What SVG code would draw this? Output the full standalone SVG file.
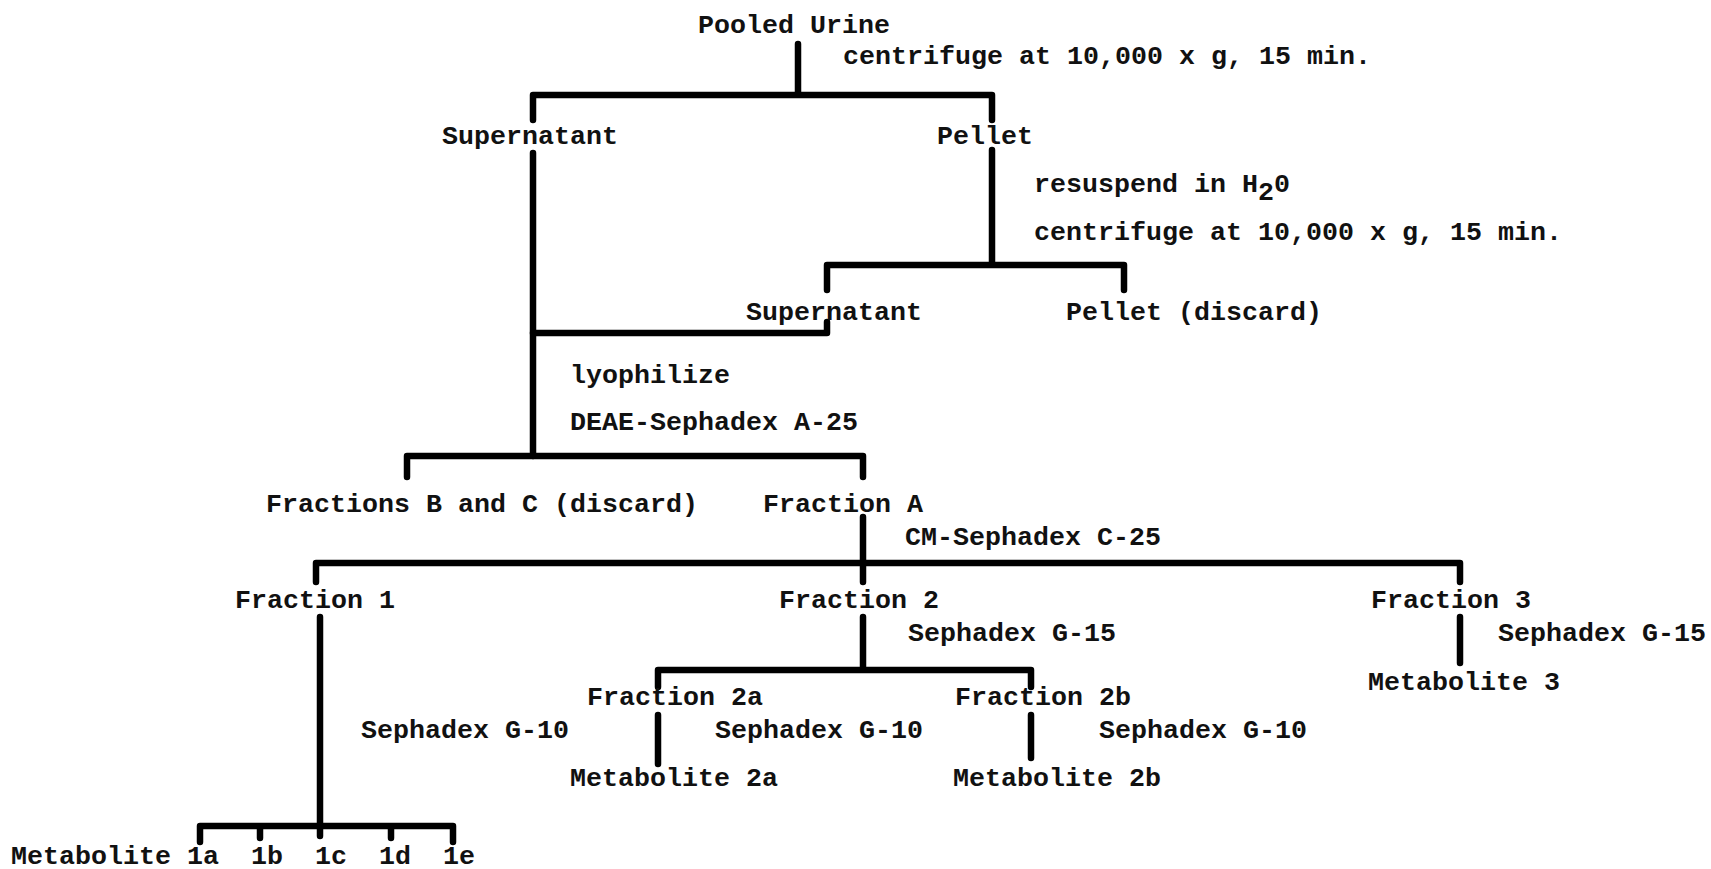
<svg xmlns="http://www.w3.org/2000/svg" width="1711" height="869" viewBox="0 0 1711 869">
<style>
text{font-family:"Liberation Mono","DejaVu Sans Mono",monospace;font-size:26.67px;font-weight:bold;fill:#111;}
.c{fill:none;stroke:#000;stroke-width:6.5;stroke-linecap:round;stroke-linejoin:round;}
</style>
<rect width="1711" height="869" fill="#fff"/>
<g id="connectors" class="c">
<path d="M798,44 V95 M533,120 V95 H992 V120"/>
<path d="M533,153 V456"/>
<path d="M533,333 H827 V322"/>
<path d="M992,150 V265 M827,290 V265 H1124 V290"/>
<path d="M407,477 V456 H863 V477"/>
<path d="M863,517 V582 M316,582 V563 H1460 V582"/>
<path d="M320,617 V826 M200,842 V826 H453 V842 M260,826 V838 M391,826 V838 M320,826 V836"/>
<path d="M863,617 V670 M658,687 V670 H1031 V687"/>
<path d="M1460,617 V663"/>
<path d="M658,715 V764"/>
<path d="M1031,715 V758"/>
</g>
<g id="pooled-urine"><text x="698" y="33">Pooled Urine</text></g>
<g id="step-centrifuge-1"><text x="843" y="64">centrifuge at 10,000 x g, 15 min.</text></g>
<g id="supernatant-1"><text x="442" y="144">Supernatant</text></g>
<g id="pellet-1"><text x="937" y="144">Pellet</text></g>
<g id="step-resuspend"><text x="1034" y="192">resuspend in H<tspan dy="8">2</tspan><tspan dy="-8">0</tspan></text></g>
<g id="step-centrifuge-2"><text x="1034" y="240">centrifuge at 10,000 x g, 15 min.</text></g>
<g id="supernatant-2"><text x="746" y="320">Supernatant</text></g>
<g id="pellet-2"><text x="1066" y="320">Pellet (discard)</text></g>
<g id="step-lyophilize"><text x="570" y="383">lyophilize</text></g>
<g id="step-deae"><text x="570" y="430">DEAE-Sephadex A-25</text></g>
<g id="fractions-bc"><text x="266" y="512">Fractions B and C (discard)</text></g>
<g id="fraction-a"><text x="763" y="512">Fraction A</text></g>
<g id="step-cm"><text x="905" y="545">CM-Sephadex C-25</text></g>
<g id="fraction-1"><text x="235" y="608">Fraction 1</text></g>
<g id="fraction-2"><text x="779" y="608">Fraction 2</text></g>
<g id="fraction-3"><text x="1371" y="608">Fraction 3</text></g>
<g id="step-g15-2"><text x="908" y="641">Sephadex G-15</text></g>
<g id="step-g15-3"><text x="1498" y="641">Sephadex G-15</text></g>
<g id="metabolite-3"><text x="1368" y="690">Metabolite 3</text></g>
<g id="fraction-2a"><text x="587" y="705">Fraction 2a</text></g>
<g id="fraction-2b"><text x="955" y="705">Fraction 2b</text></g>
<g id="step-g10-1"><text x="361" y="738">Sephadex G-10</text></g>
<g id="step-g10-2a"><text x="715" y="738">Sephadex G-10</text></g>
<g id="step-g10-2b"><text x="1099" y="738">Sephadex G-10</text></g>
<g id="metabolite-2a"><text x="570" y="786">Metabolite 2a</text></g>
<g id="metabolite-2b"><text x="953" y="786">Metabolite 2b</text></g>
<g id="metabolites-1"><text x="11" y="864" xml:space="preserve">Metabolite 1a  1b  1c  1d  1e</text></g>
</svg>
